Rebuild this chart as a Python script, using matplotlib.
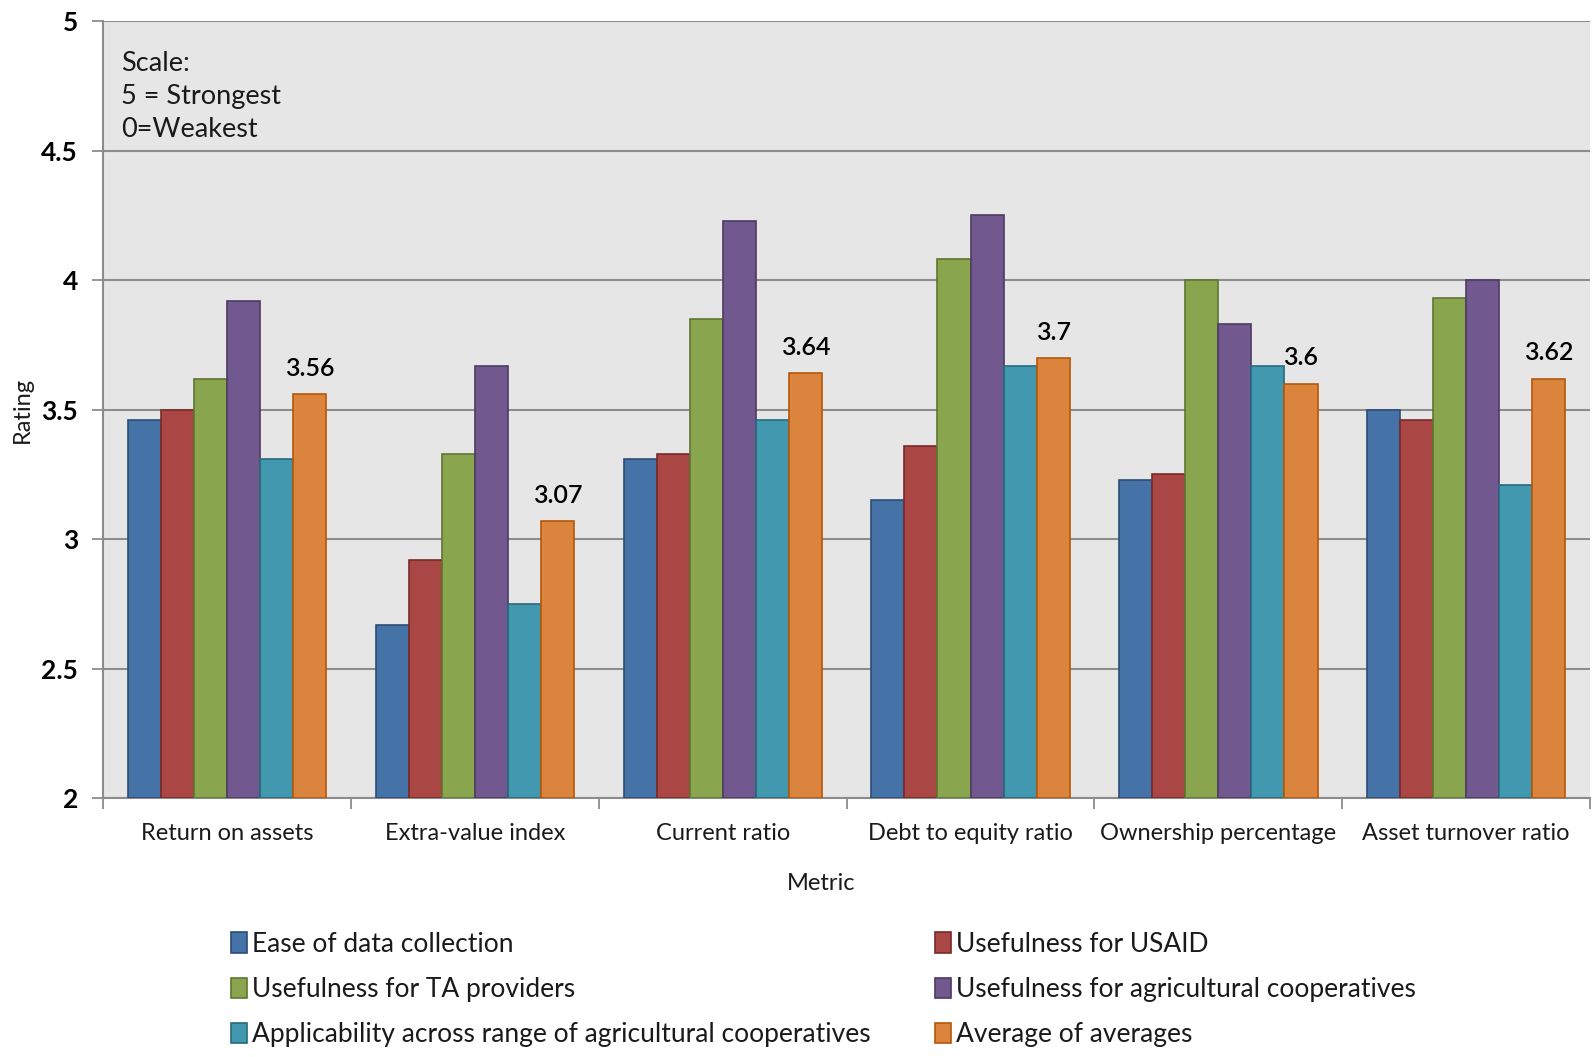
import numpy as np
import matplotlib
matplotlib.use('Agg')
import matplotlib.pyplot as plt

plt.rcParams['font.family'] = ['Lato', 'DejaVu Sans']

metrics = ['Return on assets', 'Extra-value index', 'Current ratio',
           'Debt to equity ratio', 'Ownership percentage', 'Asset turnover ratio']

ease = [3.46, 2.67, 3.31, 3.15, 3.23, 3.50]
usaid = [3.50, 2.92, 3.33, 3.36, 3.25, 3.46]
ta_providers = [3.62, 3.33, 3.85, 4.08, 4.00, 3.93]
ag_coops = [3.92, 3.67, 4.23, 4.25, 3.83, 4.00]
applicability = [3.31, 2.75, 3.46, 3.67, 3.67, 3.21]
average = [3.56, 3.07, 3.64, 3.70, 3.60, 3.62]

series = [
    ('Ease of data collection', ease, '#4572A7', '#2C4D75'),
    ('Usefulness for USAID', usaid, '#AA4643', '#772C2A'),
    ('Usefulness for TA providers', ta_providers, '#89A54E', '#5F7530'),
    ('Usefulness for agricultural cooperatives', ag_coops, '#71588F', '#4D3B62'),
    ('Applicability across range of agricultural cooperatives', applicability, '#4198AF', '#276A7C'),
    ('Average of averages', average, '#DB843D', '#B65708'),
]

fig = plt.figure(figsize=(15.93, 10.57), dpi=100)
ax = fig.add_axes([0.0647, 0.245, 0.9335, 0.735])
ax.set_facecolor('#E6E6E6')

x = np.arange(len(metrics))
n = len(series)
w = 0.8 / n
bars = {}
for i, (name, vals, fc, ec) in enumerate(series):
    pos = x - 0.4 + w * (i + 0.5)
    bars[name] = ax.bar(pos, np.array(vals) - 2, bottom=2, width=w, color=fc,
                        edgecolor=ec, linewidth=1.2, label=name, zorder=3)

# value labels above the average bars
for xi, v in zip(x - 0.4 + w * (n - 0.5), average):
    ax.text(xi, v + 0.055, f'{v:g}', ha='center', va='bottom', fontsize=18,
            fontweight='semibold', color='black')

ax.set_ylim(2, 5)
ax.set_xlim(-0.5, len(metrics) - 0.5)
ax.set_yticks([2, 2.5, 3, 3.5, 4, 4.5, 5])
ax.set_yticklabels(['2', '2.5', '3', '3.5', '4', '4.5', '5'], fontsize=19, fontweight='bold')
ax.yaxis.grid(True, color='#8C8C8C', linewidth=1.5, zorder=0)
ax.set_axisbelow(True)

ax.set_xticks(np.arange(-0.5, len(metrics)), minor=False)
ax.set_xticklabels([])
ax.set_xticks(x, minor=True)
ax.set_xticklabels(metrics, minor=True, fontsize=17, color='#1a1a1a')
ax.tick_params(axis='x', which='minor', length=0, pad=18)
ax.tick_params(axis='x', which='major', length=8, color='#8C8C8C', width=1.3)
ax.tick_params(axis='y', length=8, color='#8C8C8C', width=1.3, pad=10)

for s in ['top', 'right']:
    ax.spines[s].set_visible(False)
for s in ['left', 'bottom']:
    ax.spines[s].set_color('#8C8C8C')
    ax.spines[s].set_linewidth(1.5)

ax.set_xlabel('Metric', fontsize=17, color='#1a1a1a')
ax.xaxis.set_label_coords(0.483, -0.097)
ax.set_ylabel('Rating', fontsize=17, color='#1a1a1a', labelpad=6)

ax.text(0.012, 0.962, 'Scale:\n5 = Strongest\n0=Weakest', transform=ax.transAxes,
        ha='left', va='top', fontsize=19.5, color='#1a1a1a', linespacing=1.4)

# legend laid out row by row
order = [0, 2, 4, 1, 3, 5]
handles = [bars[series[k][0]] for k in order]
labels = [series[k][0] for k in order]
fig.legend(handles, labels, loc='upper left', bbox_to_anchor=(0.130, 0.141),
           ncol=2, frameon=False, handlelength=0.6, handleheight=0.8,
           handletextpad=0.2, columnspacing=2.45, labelspacing=0.77,
           prop={'size': 19}, labelcolor='#1a1a1a')

fig.savefig('out.png', dpi=100)
